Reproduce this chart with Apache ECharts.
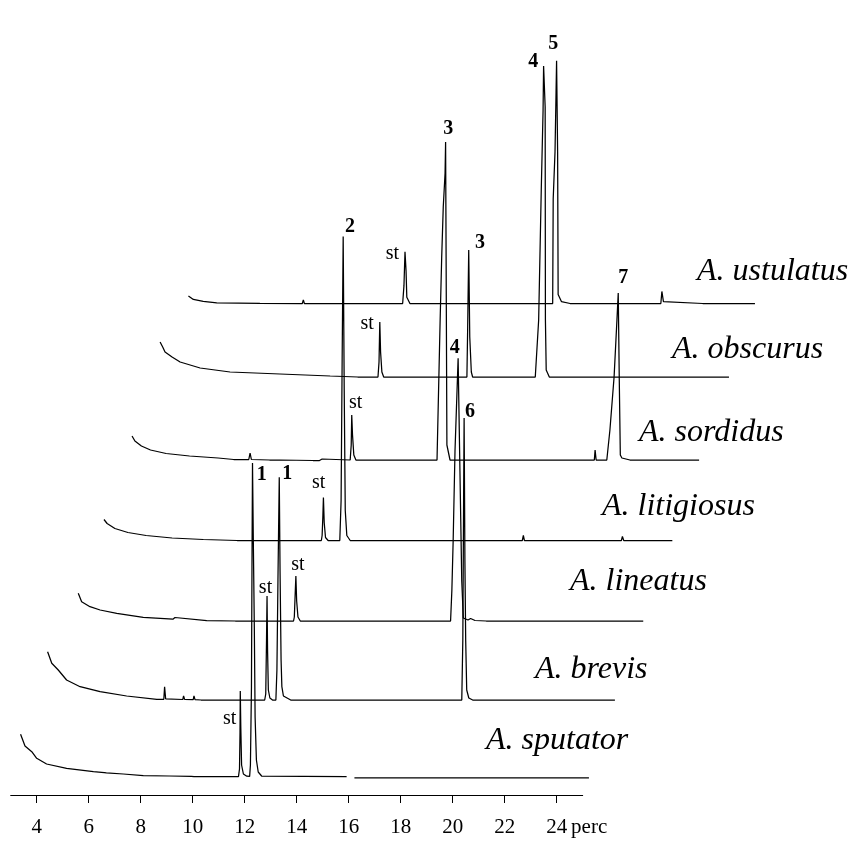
<!DOCTYPE html>
<html>
<head>
<meta charset="utf-8">
<script src="https://cdn.jsdelivr.net/npm/echarts@6.0.0/dist/echarts.min.js"></script>
<style>
  html, body { margin: 0; padding: 0; background: #fff; }
  #chart { width: 856px; height: 841px; }
</style>
</head>
<body>
<div id="chart"></div>
<script>
// Stacked GC traces of Amara species (retention time in minutes vs. detector response)
const species = ['A. sputator', 'A. brevis', 'A. lineatus', 'A. litigiosus', 'A. sordidus', 'A. obscurus', 'A. ustulatus'];
const tickValues = [4, 6, 8, 10, 12, 14, 16, 18, 20, 22, 24];
const axisUnit = 'perc';

// [retention time, response]
const sputatorTrace = [[3.38,42.7],[3.55,31],[3.81,25.3],[4.00,18.7],[4.38,13],[5.15,8.7],[6.18,5.3],[6.60,4.4],[6.64,5.8],[6.68,4.2],[7.33,3],[8.10,1.3],[9.10,1.0],[9.95,0.7],[10.0,2.2],[10.05,0.3],[10.28,0.3],[11.76,0.3],[11.80,8],[11.82,45],[11.83,86],[11.85,50],[11.88,12],[11.95,3],[12.08,0.8],[12.19,0.6],[12.22,12],[12.26,90],[12.28,210],[12.30,314],[12.33,240],[12.37,150],[12.40,60],[12.45,17],[12.52,5],[12.65,1],[15.92,0.3],[15.94,'-'],[16.22,-0.8],[25.24,-0.8]];
const brevisTrace = [[3.35,48.3],[3.51,36.7],[3.76,30],[4.08,20],[4.60,13.3],[5.37,8.3],[6.39,4],[7.55,0.7],[7.82,0.7],[7.85,13.3],[7.89,1.2],[8.55,0.5],[8.58,4],[8.62,0.6],[8.95,0.4],[8.98,4],[9.02,0.3],[9.25,0],[11.70,0],[11.74,6],[11.77,60],[11.79,104],[11.81,50],[11.84,10],[11.90,2],[12.0,0],[12.13,0],[12.17,30],[12.21,120],[12.26,222.7],[12.29,130],[12.33,40],[12.36,13.3],[12.42,4],[12.70,0],[15.10,0],[15.13,1.5],[15.16,0],[16.31,0],[16.34,1.5],[16.37,0],[19.28,0],[19.32,60],[19.35,200],[19.37,282],[19.40,140],[19.43,60],[19.47,10],[19.55,2],[19.70,0],[25.17,0]];
const lineatusTrace = [[3.46,27.7],[3.59,19.3],[3.91,14.3],[4.30,11],[4.94,7.7],[5.96,3.7],[7.10,1.8],[7.18,3.5],[7.25,1.7],[8.40,0.3],[9.5,0],[11.74,0],[11.77,4],[11.80,25],[11.83,45],[11.86,20],[11.91,4],[12.0,0],[13.80,0],[13.83,1.5],[13.9,0],[14.05,0],[14.08,1.5],[14.15,0],[14.50,0],[14.53,1.8],[14.6,0],[15.12,0],[15.14,2],[15.17,0],[17.38,0],[17.40,1.2],[17.42,0],[17.78,0],[17.83,31],[17.88,81],[17.95,170],[18.07,262.7],[18.14,150],[18.21,40],[18.27,3],[18.45,1],[18.55,2.5],[18.72,0.5],[19.15,0],[19.17,2],[19.2,0],[21.78,0],[21.80,1.2],[21.82,0],[25.19,0]];
const litigiosusTrace = [[3.38,21],[3.50,17],[3.80,12],[4.30,8],[5.00,5],[6.00,2.5],[7.20,1],[8.50,0],[11.74,0],[11.77,5],[11.80,25],[11.82,43],[11.85,18],[11.90,3],[12.0,0],[12.45,0],[12.50,40],[12.54,180],[12.58,304],[12.62,150],[12.66,30],[12.72,5],[12.85,0],[14.10,0],[14.12,2],[14.14,0],[19.47,0],[19.51,5],[19.55,0],[22.36,0],[22.38,1.5],[22.40,0],[23.28,0],[23.32,4],[23.37,0],[25.24,0]];
const sordidusTrace = [[3.39,24],[3.50,19],[3.75,14],[4.10,10],[4.70,6.5],[5.60,4],[6.70,2],[7.10,1],[7.16,-0.5],[7.30,0.5],[7.88,0.5],[7.93,7],[7.98,0.5],[8.68,0],[8.70,2],[8.72,0],[9.06,0],[9.08,2],[9.10,0],[10.35,-0.5],[10.60,-0.5],[10.70,1],[10.75,0],[11.78,0],[11.82,15],[11.84,45],[11.87,25],[11.92,5],[12.0,0],[15.12,0],[15.24,140],[15.30,203],[15.36,253],[15.43,287],[15.45,318],[15.47,200],[15.50,15],[15.62,0],[19.87,0],[19.89,1],[19.91,0],[21.17,0],[21.20,10],[21.24,0],[21.65,0],[21.77,30],[21.93,83],[22.04,140],[22.09,167],[22.13,80],[22.17,5],[22.23,2],[22.54,0],[25.20,0]];
const obscurusTrace = [[3.40,35],[3.50,30],[3.59,25],[3.86,20],[4.17,15],[4.94,9],[6.09,5],[8.01,3],[9.94,1],[11.0,0],[11.78,0],[11.82,15],[11.85,55],[11.88,25],[11.93,5],[12.0,0],[15.20,0],[15.23,50],[15.27,127],[15.31,40],[15.37,5],[15.42,0],[17.83,0],[17.96,57],[18.06,187],[18.13,267],[18.15,311],[18.21,270],[18.22,57],[18.25,7],[18.37,0],[19.40,0],[19.42,1],[19.44,0],[20.17,0],[20.19,1],[20.21,0],[21.84,0],[21.86,1],[21.88,0],[25.28,0]];
const ustulatusTrace = [[3.42,8.5],[3.48,6.8],[3.61,4.5],[3.99,2.5],[4.51,0.8],[6.17,0.2],[7.80,0],[7.84,4],[7.88,0],[8.58,0],[8.60,1.5],[8.62,0],[8.96,0],[8.98,1.5],[9.00,0],[11.66,0],[11.71,20],[11.75,58],[11.79,37],[11.82,7],[11.94,0],[17.43,0],[17.45,117],[17.52,170],[17.56,237],[17.58,272],[17.62,170],[17.64,10],[17.77,2],[18.10,0],[21.59,0],[21.63,13.5],[21.69,2],[21.75,0],[23.20,0],[23.22,2],[23.24,0],[23.84,0],[23.86,1.5],[23.88,0],[25.21,0]];

// identified peaks: [retention time, response, label]
const sputatorPeaks = [[11.83, 86, 'st'], [12.30, 314, '1']];
const brevisPeaks = [[11.79, 104, 'st'], [12.26, 222.7, '1'], [19.37, 282, '6']];
const lineatusPeaks = [[11.83, 45, 'st'], [18.07, 262.7, '4']];
const litigiosusPeaks = [[11.82, 43, 'st'], [12.58, 304, '2']];
const sordidusPeaks = [[11.84, 45, 'st'], [15.45, 318, '3'], [22.09, 167, '7']];
const obscurusPeaks = [[11.85, 55, 'st'], [15.27, 127, '3'], [18.15, 311, '4']];
const ustulatusPeaks = [[11.75, 58, 'st'], [17.58, 272, '5']];

const traces = [sputatorTrace, brevisTrace, lineatusTrace, litigiosusTrace, sordidusTrace, obscurusTrace, ustulatusTrace];
const peaks = [sputatorPeaks, brevisPeaks, lineatusPeaks, litigiosusPeaks, sordidusPeaks, obscurusPeaks, ustulatusPeaks];

// ---- layout (pixels) ----
const serif = '"Liberation Serif", "Times New Roman", serif';
const pxPerMin = 26;
const axisLeft = 10.7;
const shiftX = 27.8;                       // horizontal step between stacked traces
const baselines = [777, 700, 621, 540.5, 460, 377, 303.5];
const plotHeight = 340;
const peakLabelOffsets = [
  [[-10.7, 27.3], [9.2, 12]],
  [[-1.5, -8], [8, -3.3], [6, -6.6]],
  [[2, -11], [-3.3, -10]],
  [[-4.8, -14.3], [6.7, -10]],
  [[4, -12], [2.6, -13.4], [5, -14.7]],
  [[-12.7, 1.6], [11.3, -6.7], [-10.3, -4]],
  [[-12.7, 1.6], [-3.4, -16.7]]
];
const nameAnchors = [[486, 741], [535, 670], [570, 582], [602, 507], [639, 433], [672, 350], [697, 272]];

const grids = [{ left: axisLeft, width: pxPerMin * 22, top: 700, height: 95 }];
const xAxes = [{
  gridIndex: 0, type: 'value', min: 3, max: 25,
  axisLine: { show: true, lineStyle: { color: '#000', width: 1 } },
  axisTick: { show: true, length: 8, customValues: tickValues, lineStyle: { color: '#000', width: 1 } },
  axisLabel: { customValues: tickValues, margin: 22, color: '#000', fontFamily: serif, fontSize: 21 },
  splitLine: { show: false },
  name: axisUnit, nameLocation: 'end', nameGap: -14,
  nameTextStyle: { color: '#000', fontFamily: serif, fontSize: 21, align: 'left', verticalAlign: 'top', padding: [22, 0, 0, 0] }
}];
const yAxes = [{ gridIndex: 0, type: 'value', show: false, min: 0, max: 1 }];
const series = [];

species.forEach((name, i) => {
  grids.push({ left: axisLeft + shiftX * i, width: pxPerMin * 22.5, top: baselines[i] - plotHeight, height: plotHeight });
  xAxes.push({ gridIndex: i + 1, type: 'value', min: 3, max: 25.5, show: false });
  yAxes.push({ gridIndex: i + 1, type: 'value', min: 0, max: plotHeight, show: false });
  series.push({
    name: name,
    type: 'line',
    xAxisIndex: i + 1,
    yAxisIndex: i + 1,
    data: traces[i],
    showSymbol: false,
    symbol: 'none',
    clip: false,
    silent: true,
    lineStyle: { color: '#000', width: 1.25 },
    markPoint: {
      symbol: 'circle',
      symbolSize: 0,
      silent: true,
      data: peaks[i].map((p, k) => ({
        coord: [p[0], p[1]],
        name: p[2],
        label: {
          show: true,
          position: 'inside',
          offset: peakLabelOffsets[i][k],
          formatter: p[2],
          color: '#000',
          fontFamily: serif,
          fontSize: 20,
          fontWeight: p[2] === 'st' ? 'normal' : 'bold'
        }
      }))
    }
  });
});

const chart = echarts.init(document.getElementById('chart'), null, { renderer: 'canvas' });
chart.setOption({
  animation: false,
  backgroundColor: '#fff',
  grid: grids,
  xAxis: xAxes,
  yAxis: yAxes,
  series: series,
  graphic: species.map((name, i) => ({
    type: 'text',
    x: nameAnchors[i][0],
    y: nameAnchors[i][1],
    silent: true,
    style: {
      text: name,
      fill: '#000',
      fontFamily: serif,
      fontStyle: 'italic',
      fontSize: 32,
      verticalAlign: 'middle'
    }
  }))
});
</script>
</body>
</html>
